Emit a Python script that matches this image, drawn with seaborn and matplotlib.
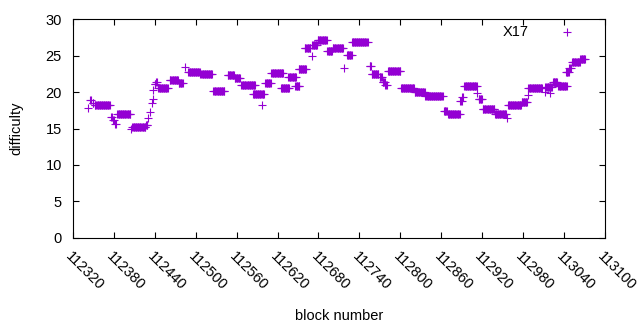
import numpy as np
import pandas as pd
import matplotlib
matplotlib.use('Agg')
import matplotlib.pyplot as plt
import seaborn as sns

# difficulty runs: first block, last block, difficulty
run_start = [112342, 112345, 112349, 112352, 112376, 112379, 112382, 112385, 112405, 112407,
             112427, 112430, 112433, 112436, 112437, 112438, 112440, 112442, 112445, 112462,
             112475, 112484, 112489, 112507, 112526, 112547, 112557, 112567, 112584, 112597,
             112602, 112611, 112625, 112636, 112646, 112651, 112660, 112670, 112671, 112679,
             112693, 112701, 112718, 112722, 112729, 112755, 112758, 112770, 112774, 112778,
             112782, 112801, 112821, 112837, 112864, 112870, 112888, 112891, 112894, 112913,
             112915, 112921, 112939, 112957, 112958, 112978, 112987, 112988, 113012, 113020,
             113013, 113024, 113032, 113043, 113048, 113052, 113064]
run_end = [112342, 112346, 112350, 112374, 112377, 112380, 112383, 112404, 112405, 112426,
           112429, 112430, 112433, 112436, 112437, 112438, 112441, 112443, 112459, 112474,
           112481, 112484, 112506, 112524, 112542, 112556, 112565, 112587, 112600, 112597,
           112610, 112628, 112637, 112647, 112652, 112662, 112668, 112670, 112678, 112692,
           112700, 112716, 112718, 112729, 112752, 112757, 112768, 112773, 112777, 112780,
           112800, 112820, 112836, 112862, 112868, 112887, 112890, 112892, 112912, 112913,
           112920, 112938, 112955, 112957, 112977, 112986, 112987, 113008, 113012, 113020,
           113022, 113030, 113044, 113047, 113050, 113063, 113071]
run_diff = [17.8, 18.9, 18.5, 18.2, 16.6, 16.2, 15.6, 17.0, 14.9, 15.2,
            15.5, 16.4, 17.2, 18.5, 19.0, 20.3, 21.1, 21.4, 20.5, 21.7,
            21.2, 23.4, 22.8, 22.5, 20.2, 22.4, 21.9, 21.0, 19.7, 18.2,
            21.3, 22.6, 20.6, 22.1, 20.9, 23.2, 26.1, 24.9, 26.4, 27.2,
            25.6, 26.0, 23.3, 25.1, 26.8, 23.6, 22.5, 22.0, 21.4, 21.0,
            22.9, 20.5, 20.0, 19.5, 17.4, 17.0, 18.8, 19.3, 20.9, 19.9,
            19.1, 17.7, 17.0, 16.4, 18.2, 18.6, 19.6, 20.6, 20.0, 19.9,
            20.7, 21.4, 20.9, 22.8, 23.3, 24.1, 24.5]

blocks = []
diffs = []
for s, e, d in zip(run_start, run_end, run_diff):
    for b in range(s, e + 1):
        blocks.append(b)
        diffs.append(d)
df = pd.DataFrame({'block': blocks, 'difficulty': diffs})

x_ticks = list(range(112320, 113101, 60))
y_ticks = [0, 5, 10, 15, 20, 25, 30]

plt.rcParams['font.family'] = ['Liberation Sans', 'DejaVu Sans']
plt.rcParams['font.size'] = 10.5

fig = plt.figure(figsize=(6.4, 3.3), dpi=100)
ax = fig.add_axes([0.114, 0.279, 0.831, 0.663])

sns.scatterplot(data=df, x='block', y='difficulty', marker='+', s=32,
                color='#9400d3', linewidth=0.8, label='X17', ax=ax)

ax.set_xlim(112320, 113100)
ax.set_ylim(0, 30)
ax.set_xticks(x_ticks)
ax.set_yticks(y_ticks)
ax.set_xticklabels([str(t) for t in x_ticks], rotation=-45, ha='left', va='top',
                   rotation_mode='anchor')
ax.tick_params(direction='in', top=True, right=True, length=4, width=0.8)
ax.tick_params(axis='x', pad=8)
ax.tick_params(axis='y', pad=8)
for sp in ax.spines.values():
    sp.set_linewidth(0.8)
ax.set_xlabel('block number', labelpad=12)
ax.set_ylabel('difficulty', labelpad=16)

ax.legend(loc='upper right', markerfirst=False, frameon=False, handlelength=2.5,
          handletextpad=1.4, borderaxespad=0.2, bbox_to_anchor=(0.98, 1.015))

fig.savefig('out.png', dpi=100)
